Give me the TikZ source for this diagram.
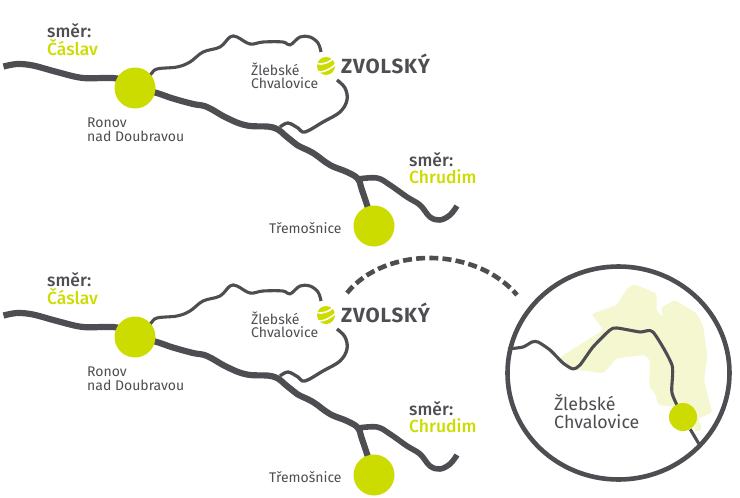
\documentclass[tikz,border=0pt]{standalone}
\usepackage{fontspec}
\setmainfont{Fira Sans}
\newfontfamily\medfont{Fira Sans Medium}
\usetikzlibrary{backgrounds,shapes.geometric}
\definecolor{road}{HTML}{4D4D52}
\definecolor{lime}{HTML}{CDDC00}
\definecolor{pale}{HTML}{F4F7CF}
\tikzset{
  x=1pt,y=-1pt,
  town/.style={circle,fill=lime,draw=none,inner sep=0pt,minimum size=41pt},
  bigroad/.style={draw=road,line width=6.2pt,line cap=butt,line join=round},
  thinroad/.style={draw=road,line width=3.1pt,line cap=butt,line join=round},
  lab/.style={anchor=base west,inner sep=0pt,text=road,font=\fontsize{14}{15}\selectfont},
  dir/.style={anchor=base west,inner sep=0pt,font=\fontsize{17.5}{18}\medfont},
}
\newcommand{\mapcopy}[2]{%
\begin{scope}[yshift=-#2pt]
 \node[town] (#1ronov) at (135,88) {};
 \node[town] (#1trem) at (374,226) {};
 \coordinate (#1fork) at (358,179);
 \coordinate (#1west) at (3.5,66.5);
 \coordinate (#1east) at (457,206);
 \coordinate (#1northA) at (321,52);
 \coordinate (#1northB) at (337,80);
 \coordinate (#1join) at (280,127);
 \begin{scope}[on background layer]
  \draw[bigroad] plot[smooth,tension=.55] coordinates {(#1west) (17,64) (33,65.5) (57,72) (83,78) (117,78.5) (#1ronov)};
  \draw[bigroad] plot[smooth,tension=.7] coordinates {(#1ronov) (155,92.5) (173,98.5) (193,104) (207,107) (227,118) (247,125.5) (273,127.5) (287,137) (297,145) (313,153) (330,165) (347,172) (#1fork) (362,190) (#1trem)};
  \draw[bigroad,line width=5.6pt] plot[smooth,tension=.6] coordinates {(#1fork) (377,178) (390,185) (407,197) (420,205) (430,217) (440,220) (450,215) (#1east)};
  \draw[thinroad] plot[smooth,tension=.6] coordinates {(#1ronov) (150,75) (157,69) (177,67) (190,62) (203,52) (220,47) (230,37) (237,37) (250,44) (263,42) (283,42) (290,45) (300,37) (310,37) (318,43) (#1northA)};
  \draw[thinroad,line width=3.3pt] plot[smooth,tension=.6] coordinates {(#1northB) (345,88) (347,100) (340,112) (323,122) (305,132) (298,128) (288,123) (#1join)};
 \end{scope}
 \node[dir,text=road] (#1a) at (47,37) {směr:};
 \node[dir,text=lime] (#1b) at (47,55) {Čáslav};
 \node[lab] (#1c) at (87,127) {Ronov};
 \node[lab] (#1d) at (87,141) {nad Doubravou};
 \node[lab] (#1e) at (251,75) {Žlebské};
 \node[lab] (#1f) at (251,88) {Chvalovice};
 \node[lab] (#1g) at (269,233) {Třemošnice};
 \node[dir,text=road] (#1h) at (409,166) {směr:};
 \node[dir,text=lime] (#1i) at (409,183) {Chrudim};
 \node[anchor=base west,inner sep=0pt,text=road,font=\fontsize{20.5}{21}\selectfont\bfseries\addfontfeatures{LetterSpace=4}] (#1z) at (341,73) {ZVOLSKÝ};
 \node[circle,fill=lime,inner sep=0pt,minimum size=18pt] (#1logo) at (326,66) {};
 \begin{scope}
  \clip (326,66) circle[radius=9.5];
  \draw[white,line width=1.6pt] (316,63) .. controls (323,66) and (330,62) .. (336,56);
  \draw[white,line width=1.6pt] (316,72) .. controls (323,73) and (331,69) .. (337,63);
 \end{scope}
\end{scope}}
\begin{document}
\begin{tikzpicture}
\useasboundingbox (0,0) rectangle (740,498);
\mapcopy{t}{0}
\mapcopy{u}{249}
\node[ellipse,draw=road,line width=4.6pt,inner sep=0pt,minimum width=222pt,minimum height=213pt] (lens) at (618.5,373) {};
\begin{scope}[on background layer,shift={(500,270)},x=.3333pt,y=-.3333pt]
 \fill[pale,rounded corners=2pt] (275,132) -- (350,105) -- (385,50) -- (405,43) -- (470,70) -- (470,125) -- (490,140) -- (483,113) -- (525,90) -- (590,130) -- (610,170) -- (622,260) -- (612,330) -- (637,428) -- (595,445) -- (607,478) -- (590,487) -- (565,450) -- (520,410) -- (475,405) -- (465,370) -- (448,350) -- (450,270) -- (435,255) -- (350,265) -- (310,310) -- (235,300) -- (215,295) -- (180,262) -- (310,180) -- cycle;
\end{scope}
\node[circle,fill=lime,inner sep=0pt,minimum size=28pt] (spot) at (683,417) {};
\coordinate (rimW) at (508,349);
\coordinate (rimS) at (699,444);
\begin{scope}[on background layer]
\draw[thinroad] plot[smooth,tension=.4] coordinates {(rimW) (523,347) (532,342) (538,342) (550,350) (563,363) (573,369) (580,365) (593,347) (610,330) (617,328) (640,332) (653,332) (672,365) (672,393) (spot)};
\draw[thinroad] (spot) -- (rimS);
\end{scope}
\node[lab,font=\fontsize{17.8}{18}\selectfont] (d1) at (554,410) {Žlebské};
\node[lab,font=\fontsize{17.8}{18}\selectfont] (d2) at (554,428) {Chvalovice};
\coordinate (arcA) at (347,293);
\coordinate (arcB) at (517,295);
\draw[draw=road,line width=4.6pt,dash pattern=on 9pt off 4.2pt] (arcA) .. controls (385,246) and (475,246) .. (arcB);
\end{tikzpicture}
\end{document}
